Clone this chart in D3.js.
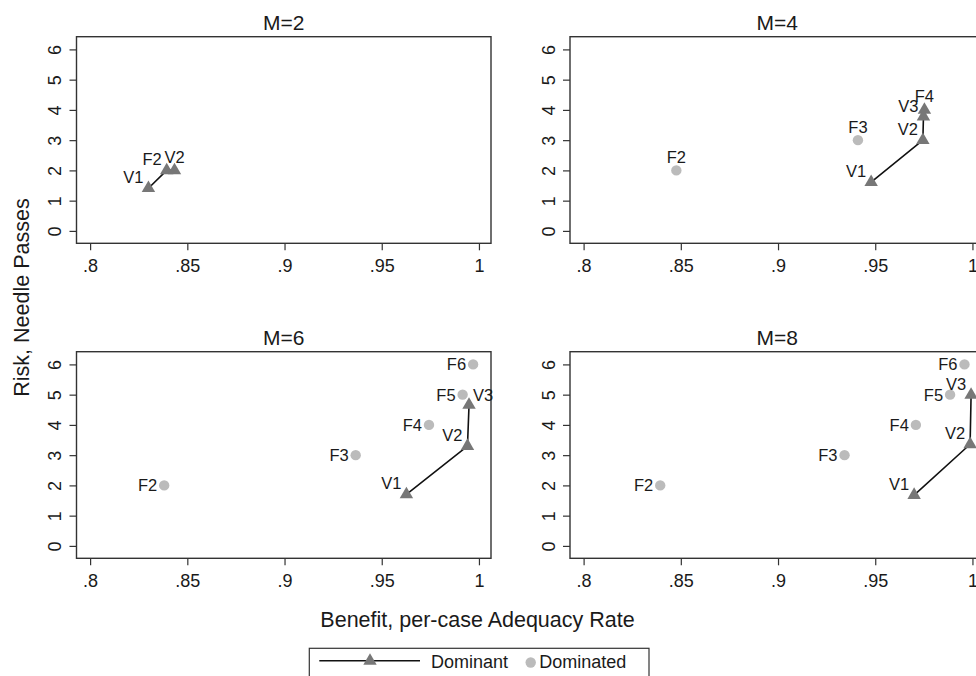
<!DOCTYPE html>
<html>
<head>
<meta charset="utf-8">
<script src="https://cdn.jsdelivr.net/npm/d3@7"></script>
<style>
  body { margin: 0; background: #fff; }
  text { font-family: "Liberation Sans", Arial, Helvetica, sans-serif; fill: #1a1a1a; }
</style>
</head>
<body>
<svg id="chart"></svg>
<script>
// ---- data ----
var panelTitles = ["M=2", "M=4", "M=6", "M=8"];
var xTicks = [0.8, 0.85, 0.9, 0.95, 1];
var yTicks = [0, 1, 2, 3, 4, 5, 6];

// dominant (frontier) strategies, in path order
var m2DomLabels = ["V1", "F2", "V2"];
var m2DomBenefit = [0.830, 0.8394, 0.8434];
var m2DomRisk = [1.41, 2.0, 2.0];
var m2SubLabels = [];
var m2SubBenefit = [];
var m2SubRisk = [];

var m4DomLabels = ["V1", "V2", "V3", "F4"];
var m4DomBenefit = [0.9479, 0.9745, 0.9748, 0.9753];
var m4DomRisk = [1.61, 3.0, 3.78, 4.0];
var m4SubLabels = ["F2", "F3"];
var m4SubBenefit = [0.8477, 0.9411];
var m4SubRisk = [2, 3];

var m6DomLabels = ["V1", "V2", "V3"];
var m6DomBenefit = [0.9627, 0.9941, 0.9949];
var m6DomRisk = [1.70, 3.30, 4.66];
var m6SubLabels = ["F2", "F3", "F4", "F5", "F6"];
var m6SubBenefit = [0.8381, 0.9366, 0.9743, 0.9916, 0.9970];
var m6SubRisk = [2, 3, 4, 5, 6];

var m8DomLabels = ["V1", "V2", "V3"];
var m8DomBenefit = [0.9700, 0.9988, 0.9993];
var m8DomRisk = [1.68, 3.36, 4.99];
var m8SubLabels = ["F2", "F3", "F4", "F5", "F6"];
var m8SubBenefit = [0.8394, 0.9342, 0.9709, 0.9885, 0.9959];
var m8SubRisk = [2, 3, 4, 5, 6];

// marker label clock positions (like Stata mlabvposition)
var labelClock = [
  { V1: 10, F2: 10, V2: 12 },
  { V1: 10, V2: 10, V3: 10, F4: 12, F2: 12, F3: 12 },
  { V1: 10, V2: 10, V3: 2, F2: 9, F3: 9, F4: 9, F5: 9, F6: 9 },
  { V1: 10, V2: 10, V3: 10, F2: 9, F3: 9, F4: 9, F5: 9, F6: 9 }
];

function zipPoints(labels, bx, ry) {
  return labels.map(function (l, i) { return { label: l, x: bx[i], y: ry[i] }; });
}

var panels = [
  { dom: zipPoints(m2DomLabels, m2DomBenefit, m2DomRisk), sub: zipPoints(m2SubLabels, m2SubBenefit, m2SubRisk) },
  { dom: zipPoints(m4DomLabels, m4DomBenefit, m4DomRisk), sub: zipPoints(m4SubLabels, m4SubBenefit, m4SubRisk) },
  { dom: zipPoints(m6DomLabels, m6DomBenefit, m6DomRisk), sub: zipPoints(m6SubLabels, m6SubBenefit, m6SubRisk) },
  { dom: zipPoints(m8DomLabels, m8DomBenefit, m8DomRisk), sub: zipPoints(m8SubLabels, m8SubBenefit, m8SubRisk) }
];

// ---- layout ----
var width = 976, height = 676;
var pw = 414.5, ph = 206.6;
var origins = [[76.5, 36.7], [570, 36.7], [76.5, 351.7], [570, 351.7]];

var darkGrey = "#777777", lightGrey = "#bbbbbb";

var svg = d3.select("#chart").attr("width", width).attr("height", height);

var x = d3.scaleLinear().domain([0.793, 1.0062]).range([0, pw]);
var y = d3.scaleLinear().domain([-0.41, 6.42]).range([ph, 0]);

var tri = d3.symbol().type(d3.symbolTriangle).size(78);

var fmtX = function (d) { return d === 1 ? "1" : d3.format(".2~f")(d).replace(/^0/, ""); };

// label offset per clock position
function labelAttrs(sel, clock) {
  var c = { 9: [-7, 0, "end", "central"], 10: [-5, -5, "end", "auto"],
            12: [0, -7.5, "middle", "auto"], 2: [4, -4, "start", "auto"] }[clock];
  sel.attr("dx", c[0]).attr("dy", c[1])
    .attr("text-anchor", c[2]).attr("dominant-baseline", c[3]);
}

panels.forEach(function (p, i) {
  var g = svg.append("g")
    .attr("transform", "translate(" + origins[i][0] + "," + origins[i][1] + ")");

  g.append("rect").attr("width", pw).attr("height", ph)
    .attr("fill", "#fff").attr("stroke", "#333").attr("stroke-width", 1.4);

  var xa = g.append("g").attr("transform", "translate(0," + ph + ")")
    .call(d3.axisBottom(x).tickValues(xTicks).tickSize(7).tickSizeOuter(0).tickFormat(fmtX));
  xa.select(".domain").remove();
  xa.selectAll("line").attr("stroke", "#333").attr("stroke-width", 1.2);
  xa.selectAll("text").attr("y", 0).attr("dy", 0)
    .attr("transform", "translate(0,29)")
    .style("font-size", "18px").style("font-family", null);

  var ya = g.append("g")
    .call(d3.axisLeft(y).tickValues(yTicks).tickSize(7).tickSizeOuter(0).tickFormat(d3.format("d")));
  ya.select(".domain").remove();
  ya.selectAll("line").attr("stroke", "#333").attr("stroke-width", 1.2);
  ya.selectAll("text").attr("x", 0).attr("y", 0).attr("dy", 0)
    .attr("text-anchor", "middle")
    .attr("transform", "translate(-15.5,0) rotate(-90)")
    .style("font-size", "18px").style("font-family", null);

  g.append("text").attr("x", pw / 2).attr("y", -7)
    .attr("text-anchor", "middle").style("font-size", "21px")
    .text(panelTitles[i]);

  // frontier line
  var line = d3.line().x(function (d) { return x(d.x); }).y(function (d) { return y(d.y); });
  g.append("path").datum(p.dom).attr("d", line)
    .attr("fill", "none").attr("stroke", "#111").attr("stroke-width", 1.6);

  g.selectAll("circle.sub").data(p.sub).enter().append("circle")
    .attr("class", "sub")
    .attr("cx", function (d) { return x(d.x); })
    .attr("cy", function (d) { return y(d.y); })
    .attr("r", 5.2).attr("fill", lightGrey);

  g.selectAll("path.dom").data(p.dom).enter().append("path")
    .attr("class", "dom")
    .attr("d", tri)
    .attr("transform", function (d) { return "translate(" + x(d.x) + "," + y(d.y) + ")"; })
    .attr("fill", darkGrey);

  p.sub.concat(p.dom).forEach(function (d) {
    g.append("text")
      .attr("x", x(d.x)).attr("y", y(d.y))
      .style("font-size", "16.5px")
      .call(labelAttrs, labelClock[i][d.label])
      .text(d.label);
  });
});

// axis titles
svg.append("text").attr("x", 477.5).attr("y", 627)
  .attr("text-anchor", "middle").style("font-size", "21.5px")
  .text("Benefit, per-case Adequacy Rate");

svg.append("text")
  .attr("transform", "translate(29,297.5) rotate(-90)")
  .attr("text-anchor", "middle").style("font-size", "21.5px")
  .text("Risk, Needle Passes");

// legend
var lg = svg.append("g");
lg.append("rect").attr("x", 309.3).attr("y", 648.3).attr("width", 339.7).attr("height", 60)
  .attr("fill", "#fff").attr("stroke", "#333").attr("stroke-width", 1.2);
lg.append("line").attr("x1", 319.3).attr("x2", 420).attr("y1", 660.7).attr("y2", 660.7)
  .attr("stroke", "#111").attr("stroke-width", 1.6);
lg.append("path").attr("d", tri).attr("transform", "translate(370,661)").attr("fill", darkGrey);
lg.append("text").attr("x", 431).attr("y", 668).style("font-size", "18px").text("Dominant");
lg.append("circle").attr("cx", 530.7).attr("cy", 662.5).attr("r", 5.2).attr("fill", lightGrey);
lg.append("text").attr("x", 539.3).attr("y", 668).style("font-size", "18px").text("Dominated");
</script>
</body>
</html>
